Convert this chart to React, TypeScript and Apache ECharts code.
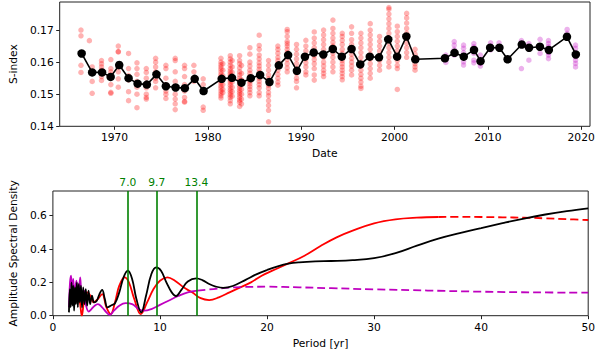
import React, { useEffect, useRef } from "react";
import * as echarts from "echarts";

// ---------- Top panel: S-index observations ----------
const redObs: [number, number[]][] = [
  [1966.4, [0.170, 0.1682, 0.159, 0.1568]],
  [1967.3, [0.1667]],
  [1967.6, [0.1585, 0.154, 0.1503]],
  [1968.6, [0.1605, 0.1595, 0.1585, 0.1555, 0.1543, 0.1575]],
  [1969.6, [0.1608, 0.158, 0.156, 0.153, 0.1506, 0.1503, 0.157]],
  [1970.4, [0.165, 0.1632, 0.1633, 0.1585, 0.157, 0.1548, 0.1522]],
  [1971.5, [0.1627, 0.158, 0.1558, 0.1545, 0.1508, 0.148]],
  [1972.4, [0.1598, 0.158, 0.1562, 0.154, 0.1522, 0.15, 0.1458]],
  [1973.4, [0.158, 0.1568, 0.155, 0.152, 0.15, 0.149, 0.1485]],
  [1974.4, [0.1612, 0.16, 0.1585, 0.157, 0.155, 0.154, 0.152]],
  [1975.5, [0.159, 0.158, 0.155, 0.153, 0.151, 0.15, 0.1487]],
  [1976.5, [0.1612, 0.1605, 0.157, 0.154, 0.152, 0.15, 0.1485, 0.147, 0.1452]],
  [1977.5, [0.159, 0.158, 0.1555, 0.153, 0.151, 0.149, 0.1478, 0.1475]],
  [1978.5, [0.159, 0.157, 0.155, 0.154]],
  [1979.5, [0.1548, 0.153, 0.151, 0.146, 0.145]],
  [1981.4, [0.1612, 0.16, 0.1592, 0.1585, 0.1578, 0.157, 0.1562, 0.1555, 0.1548, 0.154, 0.1533, 0.1525, 0.1518, 0.151, 0.1502, 0.1495, 0.1488]],
  [1981.6, [0.1595, 0.1575, 0.1558, 0.1545, 0.153, 0.1515, 0.1505]],
  [1982.4, [0.162, 0.161, 0.16, 0.159, 0.158, 0.1572, 0.1565, 0.1558, 0.155, 0.1543, 0.1536, 0.1528, 0.152, 0.1512, 0.1505, 0.1497, 0.149, 0.148, 0.147]],
  [1982.6, [0.1605, 0.1585, 0.1568, 0.1552, 0.1538, 0.1522, 0.1508, 0.1494]],
  [1983.4, [0.162, 0.1605, 0.1595, 0.1582, 0.157, 0.156, 0.155, 0.1542, 0.1535, 0.1527, 0.152, 0.1512, 0.1505, 0.1498, 0.149, 0.1482, 0.1475, 0.1462]],
  [1983.6, [0.159, 0.1565, 0.1545, 0.153, 0.1515, 0.15, 0.1485, 0.147]],
  [1984.5, [0.1645, 0.1625, 0.16, 0.1588, 0.1575, 0.1565, 0.1555, 0.1547, 0.154, 0.1532, 0.1524, 0.1515, 0.1505, 0.1495]],
  [1985.5, [0.1684, 0.1652, 0.164, 0.1622, 0.161, 0.1598, 0.1588, 0.1578, 0.1568, 0.1558, 0.155, 0.154, 0.153, 0.152, 0.1505, 0.1495]],
  [1986.5, [0.1605, 0.159, 0.1575, 0.156, 0.1548, 0.1538, 0.1528, 0.1518, 0.1505, 0.1495, 0.148, 0.1465, 0.145, 0.1414]],
  [1987.5, [0.165, 0.164, 0.1628, 0.1615, 0.1605, 0.1595, 0.1585, 0.1575, 0.1562, 0.155, 0.1538, 0.1528]],
  [1988.5, [0.1702, 0.1695, 0.168, 0.1665, 0.1658, 0.165, 0.164, 0.163, 0.162, 0.1608, 0.1595, 0.1582, 0.157]],
  [1989.5, [0.1655, 0.164, 0.1625, 0.161, 0.1595, 0.158, 0.1565, 0.155, 0.154, 0.152]],
  [1990.5, [0.1668, 0.165, 0.1635, 0.162, 0.161, 0.1598, 0.1585, 0.157, 0.156]],
  [1991.4, [0.1694, 0.1675, 0.166, 0.1645, 0.1632, 0.162, 0.1608, 0.1595, 0.158, 0.156, 0.1544]],
  [1992.4, [0.17, 0.1685, 0.167, 0.1655, 0.164, 0.1628, 0.1615, 0.16, 0.1588, 0.1575, 0.1565, 0.1555]],
  [1993.4, [0.1731, 0.1705, 0.169, 0.1675, 0.1662, 0.165, 0.164, 0.1628, 0.1615, 0.16, 0.1585, 0.157]],
  [1994.4, [0.169, 0.168, 0.1668, 0.1655, 0.164, 0.1628, 0.1615, 0.1605, 0.1595, 0.1585, 0.1575, 0.1565, 0.1555, 0.1545]],
  [1995.4, [0.171, 0.169, 0.167, 0.1655, 0.164, 0.1625, 0.1612, 0.16, 0.1588, 0.1575, 0.156]],
  [1996.4, [0.169, 0.1675, 0.166, 0.1645, 0.163, 0.1615, 0.16, 0.1588, 0.1575, 0.1562, 0.155, 0.1538, 0.1525, 0.1518]],
  [1997.4, [0.172, 0.17, 0.1685, 0.167, 0.1655, 0.164, 0.1625, 0.161, 0.1595, 0.158, 0.1565, 0.155]],
  [1998.4, [0.168, 0.1665, 0.165, 0.1635, 0.162, 0.1605, 0.159, 0.1575]],
  [1999.4, [0.177, 0.1765, 0.175, 0.1735, 0.172, 0.1705, 0.169, 0.1675, 0.166, 0.1645, 0.163, 0.1615, 0.16, 0.1585]],
  [2000.3, [0.1712, 0.1695, 0.168, 0.1665, 0.165, 0.1635, 0.162, 0.1605, 0.159, 0.158, 0.1515]],
  [2001.3, [0.1752, 0.1738, 0.1722, 0.1705, 0.169, 0.1675, 0.166, 0.1645, 0.163, 0.1615]],
  [2002.2, [0.164, 0.1625, 0.161, 0.1595, 0.1585, 0.1575]],
];

const magentaObs: [number, number[]][] = [
  [2005.5, [0.1622, 0.1608, 0.1599, 0.1615]],
  [2006.4, [0.1664, 0.1653, 0.1632, 0.1622, 0.164]],
  [2007.4, [0.1653, 0.1643, 0.1617, 0.1601, 0.1591, 0.163]],
  [2008.5, [0.1658, 0.1648, 0.1627, 0.1606, 0.1598, 0.164]],
  [2009.2, [0.1622, 0.1608, 0.1596, 0.1588, 0.16]],
  [2010.3, [0.166, 0.165, 0.1638]],
  [2011.2, [0.166, 0.1648]],
  [2013.6, [0.1667, 0.1658, 0.158]],
  [2014.4, [0.1658, 0.1648, 0.1606]],
  [2015.6, [0.1671, 0.1648, 0.1627]],
  [2016.5, [0.1667, 0.1658, 0.1648, 0.1638, 0.1622, 0.1611, 0.163]],
  [2018.5, [0.1702, 0.169]],
  [2019.4, [0.1653, 0.1643, 0.1617, 0.1606, 0.1596, 0.1585, 0.163]],
];

const meanYears = [
  1966.47, 1967.6, 1968.66, 1969.58, 1970.5, 1971.5, 1972.47, 1973.46, 1974.49, 1975.5,
  1976.54, 1977.53, 1978.59, 1979.54, 1981.48, 1982.58, 1983.6, 1984.6, 1985.6, 1986.6,
  1987.6, 1988.6, 1989.54, 1990.4, 1991.34, 1992.37, 1993.39, 1994.35, 1995.4, 1996.33,
  1997.35, 1998.34, 1999.33, 2000.28, 2001.27, 2002.23, 2005.4, 2006.43, 2007.42, 2008.52,
  2009.22, 2010.25, 2011.24, 2012.12, 2013.64, 2014.42, 2015.58, 2016.54, 2018.48, 2019.43,
];
const meanValues = [
  0.1627, 0.1568, 0.1568, 0.1554, 0.1591, 0.155, 0.1533, 0.153, 0.1562, 0.1525,
  0.1521, 0.1519, 0.1548, 0.151, 0.1548, 0.1551, 0.1536, 0.155, 0.156, 0.1538,
  0.159, 0.1622, 0.1573, 0.1617, 0.163, 0.1624, 0.1641, 0.1617, 0.1641, 0.1593,
  0.1617, 0.1615, 0.1671, 0.1617, 0.168, 0.1609, 0.1612, 0.1629, 0.1617, 0.1638,
  0.1603, 0.1645, 0.1645, 0.1609, 0.1655, 0.1645, 0.1648, 0.1638, 0.1679, 0.1624,
];

const yearTicks = [1970, 1980, 1990, 2000, 2010, 2020];
const sTicks = [0.14, 0.15, 0.16, 0.17];

// ---------- Bottom panel: amplitude spectra ----------
const blackPeriod = [
  1.5, 1.58, 1.66, 1.74, 1.82, 1.9, 1.98, 2.06, 2.15, 2.24, 2.33, 2.42, 2.52, 2.62, 2.72, 2.83, 2.95,
  3.07, 3.2, 3.33, 3.48, 3.65, 3.85, 4.1, 4.35, 4.6, 4.85, 5.1, 5.4, 5.8, 6.2, 6.6, 7.0, 7.4, 7.8,
  8.25, 8.7, 9.2, 9.65, 10.1, 10.6, 11.1, 11.5, 12.0, 12.6, 13.4, 14.0, 14.6, 15.2, 15.9, 16.8, 18,
  19, 20, 21, 22, 23, 24.5, 26, 28, 30, 32, 34, 36, 38, 40, 42, 44, 46, 48, 50,
];
const blackAmp = [
  0.02, 0.16, 0.05, 0.2, 0.06, 0.18, 0.03, 0.17, 0.07, 0.2, 0.05, 0.19, 0.08, 0.18, 0.05, 0.17, 0.07,
  0.16, 0.06, 0.15, 0.07, 0.12, 0.08, 0.09, 0.13, 0.155, 0.1, 0.05, 0.06, 0.075, 0.14, 0.23, 0.27, 0.22, 0.1,
  0.02, 0.12, 0.25, 0.29, 0.27, 0.2, 0.14, 0.118, 0.155, 0.205, 0.224, 0.212, 0.19, 0.175, 0.167, 0.178, 0.215,
  0.248, 0.274, 0.296, 0.312, 0.32, 0.326, 0.328, 0.333, 0.345, 0.375, 0.42, 0.462, 0.495, 0.525, 0.555, 0.583, 0.607, 0.627, 0.644,
];

const redPeriod = [
  1.9, 2.1, 2.3, 2.5, 2.7, 2.9, 3.2, 3.5, 3.8, 4.2, 4.6, 5.0, 5.4, 5.8, 6.2, 6.7, 7.1, 7.6, 8.2, 8.8,
  9.4, 10.0, 10.7, 11.4, 12.2, 13.0, 13.8, 14.6, 15.5, 16.5, 17.5, 18.5, 19.5, 20.5, 22, 23.5, 25,
  26.5, 28, 30, 32, 34, 36,
];
const redAmp = [
  0.08, 0.16, 0.12, 0.09, 0.0, 0.08, 0.14, 0.12, 0.08, 0.1, 0.13, 0.05, 0.01, 0.08, 0.18, 0.23, 0.2, 0.1, 0.01, 0.08,
  0.16, 0.21, 0.23, 0.21, 0.17, 0.14, 0.105, 0.094, 0.11, 0.14, 0.17, 0.2, 0.24, 0.27, 0.314, 0.36, 0.418,
  0.47, 0.51, 0.554, 0.578, 0.588, 0.592,
];
const redDashPeriod = [36, 38, 40, 42, 44, 46, 48, 50];
const redDashAmp = [0.592, 0.593, 0.592, 0.59, 0.588, 0.584, 0.579, 0.574];

const magPeriod = [
  1.5, 1.6, 1.7, 1.8, 1.9, 2.0, 2.2, 2.35, 2.55, 2.7, 2.9, 3.1, 3.35, 3.6, 3.9, 4.2, 4.6, 5.0, 5.3,
  5.7, 6.2, 6.8, 7.4, 8.0, 8.5, 9.2, 10.0, 10.8, 11.7, 12.6, 13.5,
];
const magAmp = [
  0.05, 0.2, 0.24, 0.12, 0.22, 0.13, 0.21, 0.1, 0.23, 0.12, 0.15, 0.06, 0.025, 0.04, 0.06, 0.07, 0.05, 0.02, 0.005,
  0.03, 0.06, 0.075, 0.07, 0.04, 0.03, 0.04, 0.065, 0.09, 0.118, 0.14, 0.15,
];
const magDashPeriod = [13.5, 15, 17, 20, 23, 26, 30, 35, 40, 45, 50];
const magDashAmp = [0.15, 0.16, 0.17, 0.174, 0.17, 0.165, 0.158, 0.151, 0.144, 0.14, 0.138];

const peakPeriods = [7.0, 9.7, 13.4];
const periodTicks = [0, 10, 20, 30, 40, 50];
const asdTicks = [0, 0.2, 0.4, 0.6];

const FONT = "DejaVu Sans";
const RED = "#ff0000";
const MAG = "#bf00bf";
const GREEN = "#008000";

function zip(a: number[], b: number[]) {
  return a.map((x, i) => [x, b[i]]);
}
function flatten(obs: [number, number[]][]) {
  return obs.flatMap(([t, vs]) => vs.map((v) => [t, v]));
}

export default function App() {
  const ref = useRef<HTMLDivElement>(null);
  useEffect(() => {
    document.body.style.margin = "0";
    const chart = echarts.init(ref.current!, null, { renderer: "svg" });
    const labelStyle = { color: "#000", fontFamily: FONT, fontSize: 10.7 };
    const gridCommon = { show: true, borderColor: "#222", borderWidth: 1, backgroundColor: "transparent" };
    chart.setOption({
      animation: false,
      textStyle: { fontFamily: FONT },
      grid: [
        { ...gridCommon, left: 51, top: 2, width: 539, height: 124.3 },
        { ...gridCommon, left: 51, top: 191, width: 539, height: 124.7 },
      ],
      xAxis: [
        {
          type: "value", gridIndex: 0, min: 1964.12, max: 2020.95,
          axisLine: { show: false },
          axisTick: { show: true, length: 3.5, customValues: yearTicks, lineStyle: { color: "#222" } },
          axisLabel: { ...labelStyle, margin: 6, customValues: yearTicks, formatter: (v: number) => String(Math.round(v)) },
          splitLine: { show: false },
          name: "Date", nameLocation: "middle", nameGap: 22,
          nameTextStyle: { ...labelStyle },
        },
        {
          type: "value", gridIndex: 1, min: 0, max: 50,
          axisLine: { show: false },
          axisTick: { show: true, length: 3.5, customValues: periodTicks, lineStyle: { color: "#222" } },
          axisLabel: { ...labelStyle, margin: 6, customValues: periodTicks, formatter: (v: number) => String(Math.round(v)) },
          splitLine: { show: false },
          name: "Period [yr]", nameLocation: "middle", nameGap: 22,
          nameTextStyle: { ...labelStyle },
        },
      ],
      yAxis: [
        {
          type: "value", gridIndex: 0, min: 0.14, max: 0.17875,
          axisLine: { show: false },
          axisTick: { show: true, length: 3.5, customValues: sTicks, lineStyle: { color: "#222" } },
          axisLabel: { ...labelStyle, margin: 6, customValues: sTicks, formatter: (v: number) => v.toFixed(2) },
          splitLine: { show: false },
          name: "S-index", nameLocation: "middle", nameGap: 37,
          nameTextStyle: { ...labelStyle },
        },
        {
          type: "value", gridIndex: 1, min: 0, max: 0.748,
          axisLine: { show: false },
          axisTick: { show: true, length: 3.5, customValues: asdTicks, lineStyle: { color: "#222" } },
          axisLabel: { ...labelStyle, margin: 6, customValues: asdTicks, formatter: (v: number) => v.toFixed(1) },
          splitLine: { show: false },
          name: "Amplitude Spectral Density", nameLocation: "middle", nameGap: 31,
          nameTextStyle: { ...labelStyle },
        },
      ],
      series: [
        {
          type: "scatter", xAxisIndex: 0, yAxisIndex: 0, data: flatten(redObs),
          symbolSize: 5.5, itemStyle: { color: RED, opacity: 0.3 }, z: 1,
        },
        {
          type: "scatter", xAxisIndex: 0, yAxisIndex: 0, data: flatten(magentaObs),
          symbolSize: 5.5, itemStyle: { color: MAG, opacity: 0.3 }, z: 1,
        },
        {
          type: "line", xAxisIndex: 0, yAxisIndex: 0, data: zip(meanYears, meanValues),
          symbol: "circle", symbolSize: 8.5, itemStyle: { color: "#000" },
          lineStyle: { color: "#000", width: 1.6 }, z: 3,
        },
        {
          type: "line", xAxisIndex: 1, yAxisIndex: 1, data: zip(redPeriod, redAmp),
          symbol: "none", smooth: 0.4, lineStyle: { color: RED, width: 1.8 }, z: 2,
        },
        {
          type: "line", xAxisIndex: 1, yAxisIndex: 1, data: zip(redDashPeriod, redDashAmp),
          symbol: "none", smooth: 0.4, lineStyle: { color: RED, width: 1.8, type: [8, 4] }, z: 2,
        },
        {
          type: "line", xAxisIndex: 1, yAxisIndex: 1, data: zip(magPeriod, magAmp),
          symbol: "none", smooth: 0.4, lineStyle: { color: MAG, width: 1.8 }, z: 2,
        },
        {
          type: "line", xAxisIndex: 1, yAxisIndex: 1, data: zip(magDashPeriod, magDashAmp),
          symbol: "none", smooth: 0.4, lineStyle: { color: MAG, width: 1.8, type: [8, 4] }, z: 2,
        },
        {
          type: "line", xAxisIndex: 1, yAxisIndex: 1, data: zip(blackPeriod, blackAmp),
          symbol: "none", smooth: 0.4, lineStyle: { color: "#000", width: 1.8 }, z: 3,
          markLine: {
            silent: true, symbol: ["none", "none"], animation: false,
            lineStyle: { color: GREEN, width: 1.6, type: "solid" },
            label: {
              show: true, position: "end", color: GREEN, fontFamily: FONT, fontSize: 10.7,
              distance: 3, formatter: (p: any) => p.name,
            },
            data: peakPeriods.map((p) => ({ xAxis: p, name: p.toFixed(1) })),
          },
        },
      ],
    });
    return () => chart.dispose();
  }, []);
  return <div ref={ref} style={{ width: 598, height: 353 }} />;
}
